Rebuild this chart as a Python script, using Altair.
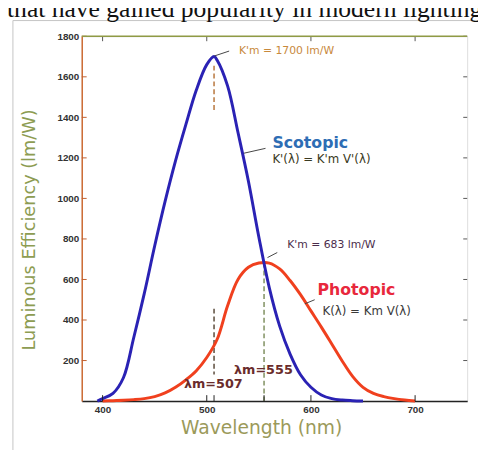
import altair as alt
import pandas as pd

# ---- data ----
scot_nm = [395, 400, 410, 420, 430, 440, 450, 460, 470, 480, 490, 500, 507, 510, 520, 530, 540, 550, 560, 570, 580, 590, 600, 610, 620, 630, 640, 650]
scot_val = [0, 12, 38, 115, 315, 530, 765, 985, 1185, 1365, 1535, 1660, 1700, 1682, 1555, 1325, 1085, 810, 560, 370, 232, 130, 68, 30, 12, 5, 2, 0]

phot_nm = [400, 410, 420, 430, 440, 450, 460, 470, 480, 490, 500, 510, 520, 530, 540, 550, 560, 570, 580, 590, 600, 610, 620, 630, 640, 650, 660, 670, 680, 690, 700]
phot_val = [0, 2, 4, 7, 12, 22, 40, 68, 105, 150, 215, 305, 470, 600, 660, 681, 681, 652, 595, 525, 445, 365, 282, 198, 122, 68, 38, 22, 12, 5, 0]

x_ticks = [400, 500, 600, 700]
y_ticks = [200, 400, 600, 800, 1000, 1200, 1400, 1600, 1800]
marker_ticks = [507, 555]

# dashed guides: wavelength, from, to, colour
dash_nm = [507, 507, 555]
dash_y1 = [1655, 456, 683]
dash_y2 = [1436, 131, 0]
dash_col = ["#b8763c", "#5a4a3a", "#7f8f5f"]

# leader lines
lead_x1 = [507.4, 535.7, 558.3, 594.2]
lead_y1 = [1703, 1223, 708, 480]
lead_x2 = [521.5, 556.4, 567.7, 603.6]
lead_y2 = [1727, 1247, 733, 500]

# annotations
ann_text = ["K'm = 1700 lm/W", "K'(λ) = K'm V'(λ)", "K'm = 683 lm/W", "K(λ) = Km V(λ)"]
ann_nm = [530.9, 563.0, 577.2, 611.1]
ann_val = [1727, 1194, 771, 446]
ann_col = ["#c8893c", "#3a3a22", "#4b2d4b", "#3a3a3a"]
ann_size = [11, 12, 11, 12]

big_text = ["Scotopic", "Photopic"]
big_nm = [563.0, 606.4]
big_val = [1271, 548]
big_col = ["#2e6db4", "#e8283c"]

lam_text = ["λm=507", "λm=555"]
lam_nm = [478.1, 526.2]
lam_val = [82, 155]

W, H = 392, 371
xs = alt.Scale(domain=[380, 750], nice=False, zero=False)
ys = alt.Scale(domain=[0, 1800], nice=False)

scot = pd.DataFrame({"nm": scot_nm, "val": scot_val})
phot = pd.DataFrame({"nm": phot_nm, "val": phot_val})

base_x = alt.X("nm:Q", scale=xs, axis=alt.Axis(values=x_ticks, format="d", ticks=False, grid=False, title=None,
                domainColor="#222222", domainWidth=1.5, labelFont="Liberation Sans",
                labelFontSize=10, labelFontWeight="bold", labelColor="#333333", labelPadding=4))
base_y = alt.Y("val:Q", scale=ys, axis=alt.Axis(values=y_ticks, format="d", ticks=False, grid=False, title=None,
                domainColor="#cc6a33", domainWidth=1.5, labelFont="Liberation Sans",
                labelFontSize=10, labelFontWeight="bold", labelColor="#333333", labelPadding=3))

blue = alt.Chart(scot).mark_line(interpolate="catmull-rom", strokeWidth=3, color="#2a22b4").encode(x=base_x, y=base_y)
red = alt.Chart(phot).mark_line(interpolate="catmull-rom", strokeWidth=3, color="#f0401e").encode(x="nm:Q", y="val:Q")

# inward ticks
yt = pd.DataFrame({"val": y_ticks})
ytick_l = alt.Chart(yt).mark_rule(color="#c06030", strokeWidth=1).encode(
    y=alt.Y("val:Q", scale=ys), x=alt.value(0), x2=alt.value(5))
ytick_r = alt.Chart(yt).mark_rule(color="#555555", strokeWidth=1).encode(
    y=alt.Y("val:Q", scale=ys), x=alt.value(W - 4), x2=alt.value(W))
xt = pd.DataFrame({"nm": x_ticks + marker_ticks})
xtick_b = alt.Chart(xt).mark_rule(color="#222222", strokeWidth=1).encode(
    x=alt.X("nm:Q", scale=xs), y=alt.value(H), y2=alt.value(H - 6))
xt2 = pd.DataFrame({"nm": x_ticks})
xtick_t = alt.Chart(xt2).mark_rule(color="#555555", strokeWidth=1).encode(
    x=alt.X("nm:Q", scale=xs), y=alt.value(0), y2=alt.value(5))

one = pd.DataFrame({"t": [""]})
top_border = alt.Chart(one).mark_rule(color="#8f9a45", strokeWidth=1.5).encode(
    x=alt.value(0), x2=alt.value(W), y=alt.value(0))

dash = pd.DataFrame({"nm": dash_nm, "y1": dash_y1, "y2": dash_y2, "c": dash_col})
dashes = alt.Chart(dash).mark_rule(strokeDash=[5, 3], strokeWidth=1.5).encode(
    x=alt.X("nm:Q", scale=xs), y=alt.Y("y1:Q", scale=ys), y2="y2:Q", color=alt.Color("c:N", scale=None))

lead = pd.DataFrame({"x1": lead_x1, "y1": lead_y1, "x2": lead_x2, "y2": lead_y2})
leaders = alt.Chart(lead).mark_rule(color="#444444", strokeWidth=1).encode(
    x=alt.X("x1:Q", scale=xs), x2="x2:Q", y=alt.Y("y1:Q", scale=ys), y2="y2:Q")

ann = pd.DataFrame({"t": ann_text, "nm": ann_nm, "val": ann_val, "c": ann_col, "s": ann_size})
ann_layer = alt.Chart(ann).mark_text(align="left", baseline="middle", font="DejaVu Sans").encode(
    x=alt.X("nm:Q", scale=xs), y=alt.Y("val:Q", scale=ys), text="t:N",
    color=alt.Color("c:N", scale=None), size=alt.Size("s:Q", scale=None))

big = pd.DataFrame({"t": big_text, "nm": big_nm, "val": big_val, "c": big_col})
big_layer = alt.Chart(big).mark_text(align="left", baseline="middle", font="DejaVu Sans",
                                     fontWeight="bold", fontSize=16).encode(
    x=alt.X("nm:Q", scale=xs), y=alt.Y("val:Q", scale=ys), text="t:N", color=alt.Color("c:N", scale=None))

lam = pd.DataFrame({"t": lam_text, "nm": lam_nm, "val": lam_val})
lam_layer = alt.Chart(lam).mark_text(align="left", baseline="middle", font="DejaVu Sans",
                                     fontWeight="bold", fontSize=13, color="#6a2c2c").encode(
    x=alt.X("nm:Q", scale=xs), y=alt.Y("val:Q", scale=ys), text="t:N")

ytitle = alt.Chart(pd.DataFrame({"t": ["Luminous Efficiency (lm/W)"]})).mark_text(
    angle=270, align="center", baseline="middle", font="DejaVu Sans", fontSize=18, color="#8d9c52").encode(
    x=alt.value(-53), y=alt.value(197), text="t:N")
xtitle = alt.Chart(pd.DataFrame({"t": ["Wavelength (nm)"]})).mark_text(
    align="center", baseline="middle", font="DejaVu Sans", fontSize=19, color="#9b9a5a").encode(
    x=alt.value(183), y=alt.value(398), text="t:N")

page_text = alt.Chart(pd.DataFrame({"t": ["that have gained popularity in modern lighting"]})).mark_text(
    align="left", baseline="alphabetic", font="Liberation Serif", fontSize=26, color="#111111").encode(
    x=alt.value(-76), y=alt.value(-20), text="t:N")
frame_l = alt.Chart(one).mark_rule(color="#c4c4c4", strokeWidth=1).encode(
    x=alt.value(-70), y=alt.value(-16), y2=alt.value(H + 50))
frame_t = alt.Chart(one).mark_rule(color="#c4c4c4", strokeWidth=1).encode(
    x=alt.value(-70), x2=alt.value(W + 20), y=alt.value(-16))

chart = alt.layer(
    frame_l, frame_t, page_text,
    dashes, red, blue, leaders,
    ytick_l, ytick_r, xtick_b, xtick_t, top_border,
    ann_layer, big_layer, lam_layer, ytitle, xtitle,
).properties(
    width=W, height=H,
    autosize=alt.AutoSizeParams(type="none"),
    padding={"left": 75, "top": 25, "right": 11, "bottom": 46},
).configure_view(stroke=None).configure(background="white")

chart.save("out.html", embed_options={"renderer": "svg", "actions": False})
